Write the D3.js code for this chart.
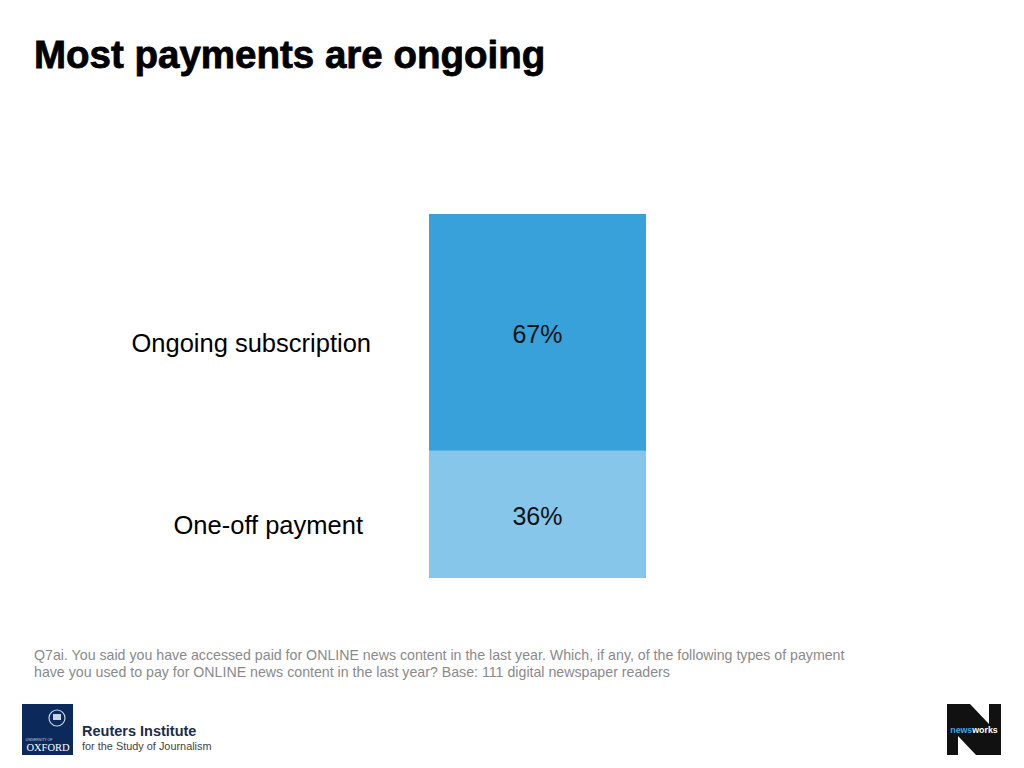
<!DOCTYPE html>
<html>
<head>
<meta charset="utf-8">
<script src="https://cdn.jsdelivr.net/npm/d3@7"></script>
<style>
  html, body { margin: 0; padding: 0; background: #fff; }
  svg { display: block; font-family: "Liberation Sans", Arial, sans-serif; }
</style>
</head>
<body>
<div id="chart"></div>
<script>
// data, stacked from the bottom up
const categories = ["One-off payment", "Ongoing subscription"]
const values = [36, 67]
const colors = ["#86c6ea", "#38a1da"]

const title = "Most payments are ongoing"
const footnote = [
  "Q7ai. You said you have accessed paid for ONLINE news content in the last year. Which, if any, of the following types of payment",
  "have you used to pay for ONLINE news content in the last year? Base: 111 digital newspaper readers",
]

const width = 1024
const height = 768

const svg = d3.select("#chart")
  .append("svg")
  .attr("width", width)
  .attr("height", height)

svg.append("text")
  .attr("x", 34)
  .attr("y", 68)
  .attr("font-size", "38.5px")
  .attr("font-weight", "bold")
  .attr("fill", "#000")
  .attr("stroke", "#000")
  .attr("stroke-width", 0.8)
  .text(title)

// stack the segments
const tops = d3.cumsum(values)
const segs = categories.map((c, i) => ({
  name: c,
  value: values[i],
  y0: tops[i] - values[i],
  y1: tops[i],
  color: colors[i],
}))

const y = d3.scaleLinear()
  .domain([0, d3.sum(values)])
  .range([578, 214])

const barX = 429
const barW = 217

svg.append("g")
  .selectAll("rect")
  .data(segs)
  .join("rect")
  .attr("x", barX)
  .attr("width", barW)
  .attr("y", (d) => y(d.y1))
  .attr("height", (d) => y(d.y0) - y(d.y1))
  .attr("fill", (d) => d.color)

// value labels inside the segments
svg.append("g")
  .selectAll("text")
  .data(segs)
  .join("text")
  .attr("x", barX + barW / 2)
  .attr("y", (d) => (y(d.y0) + y(d.y1)) / 2 + 1.5)
  .attr("dy", "0.36em")
  .attr("text-anchor", "middle")
  .attr("font-size", "25px")
  .attr("fill", "#111")
  .text((d) => d.value + "%")

// category labels, a bit lower than segment centre like the original slide
const labelNudge = { "One-off payment": -8, "Ongoing subscription": 0 }
svg.append("g")
  .selectAll("text")
  .data(segs)
  .join("text")
  .attr("x", (d) => 371 + labelNudge[d.name])
  .attr("y", (d) => (y(d.y0) + y(d.y1)) / 2 + 10.5)
  .attr("dy", "0.36em")
  .attr("text-anchor", "end")
  .attr("font-size", "25.5px")
  .attr("fill", "#000")
  .text((d) => d.name)

// footnote
svg.append("g")
  .selectAll("text")
  .data(footnote)
  .join("text")
  .attr("x", 34)
  .attr("y", (d, i) => 660 + i * 17)
  .attr("font-size", "14.2px")
  .attr("fill", "#8a8a8a")
  .text((d) => d)

// Reuters Institute / Oxford logo
const ox = svg.append("g")
ox.append("rect")
  .attr("x", 22).attr("y", 704)
  .attr("width", 51).attr("height", 51)
  .attr("fill", "#0b2a5b")
ox.append("circle")
  .attr("cx", 57).attr("cy", 718).attr("r", 8)
  .attr("fill", "none").attr("stroke", "#c9d3e3").attr("stroke-width", 1.2)
ox.append("rect")
  .attr("x", 53).attr("y", 714).attr("width", 8).attr("height", 6)
  .attr("fill", "#c9d3e3")
ox.append("text")
  .attr("x", 39).attr("y", 741)
  .attr("text-anchor", "middle")
  .attr("font-size", "3.5px")
  .attr("fill", "#c9d3e3")
  .text("UNIVERSITY OF")
ox.append("text")
  .attr("x", 48).attr("y", 751)
  .attr("text-anchor", "middle")
  .attr("font-family", "'Liberation Serif', serif")
  .attr("font-size", "10.5px")
  .attr("fill", "#fff")
  .text("OXFORD")
ox.append("text")
  .attr("x", 82).attr("y", 736)
  .attr("font-size", "14.5px")
  .attr("font-weight", "bold")
  .attr("fill", "#1d2b4a")
  .text("Reuters Institute")
ox.append("text")
  .attr("x", 82).attr("y", 750)
  .attr("font-size", "10.9px")
  .attr("fill", "#444")
  .text("for the Study of Journalism")

// newsworks logo
const nw = svg.append("g")
nw.append("rect")
  .attr("x", 947).attr("y", 704)
  .attr("width", 54).attr("height", 51)
  .attr("fill", "#111")
nw.append("polygon")
  .attr("points", "970,704 989,704 989,724")
  .attr("fill", "#fff")
nw.append("polygon")
  .attr("points", "958,736 958,755 976,755")
  .attr("fill", "#fff")
const nwText = nw.append("text")
  .attr("x", 974).attr("y", 733)
  .attr("text-anchor", "middle")
  .attr("font-size", "8.8px")
  .attr("font-weight", "bold")
nwText.append("tspan").attr("fill", "#4aa3df").text("news")
nwText.append("tspan").attr("fill", "#fff").text("works")
</script>
</body>
</html>
